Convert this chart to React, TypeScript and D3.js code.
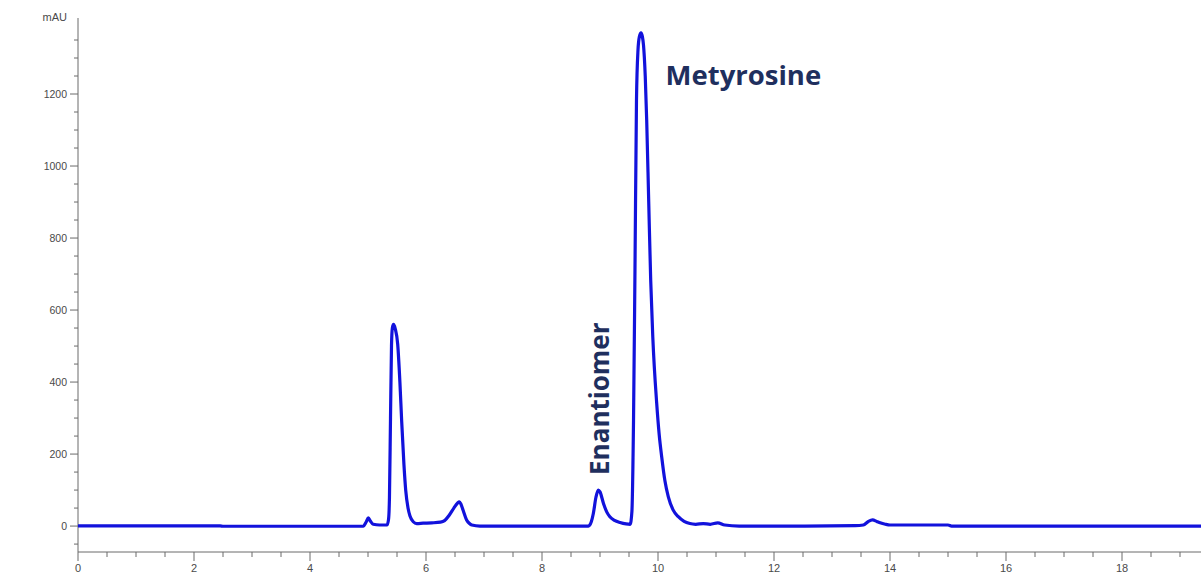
import React from "react";
import * as d3 from "d3";

// Retention time (min) and absorbance (mAU)
const TIME: number[] = [
  0, 2.45, 2.5, 4.5, 4.92, 4.97, 5.006, 5.04, 5.09, 5.2, 5.33,
  5.355, 5.37, 5.388, 5.405, 5.42, 5.44, 5.47, 5.512, 5.55, 5.581, 5.62, 5.65, 5.69, 5.724, 5.78, 5.84,
  5.95, 6.1, 6.25, 6.32, 6.4, 6.48, 6.545, 6.575, 6.6, 6.64, 6.7, 6.75, 6.79, 6.93,
  8.0, 8.8, 8.85, 8.885, 8.93, 8.97, 9.0, 9.06, 9.12, 9.17, 9.25, 9.345, 9.45, 9.52,
  9.55, 9.578, 9.603, 9.629, 9.655, 9.68, 9.707, 9.73, 9.75, 9.78, 9.805, 9.84, 9.874, 9.91, 9.977,
  10.02, 10.064, 10.12, 10.178, 10.26, 10.35, 10.45, 10.55, 10.65, 10.78, 10.9, 11.03, 11.15, 11.4,
  12.5, 13.4, 13.54, 13.62, 13.7, 13.77, 13.83, 13.92, 14.0, 15.0, 15.06, 19.4,
];
const ABSORBANCE: number[] = [
  0.5, 0.5, -0.5, -0.5, 0, 12, 23, 14, 5, 3, 3,
  20, 80, 300, 500, 550, 560, 548, 505, 400, 290, 170, 100, 50, 28, 12, 7,
  8, 9, 11, 15, 30, 50, 64, 67, 62, 44, 17, 7, 3, 0,
  0, 0, 12, 35, 80, 100, 95, 63, 38, 26, 16, 10, 6, 5,
  40, 294, 711, 1183, 1322, 1360, 1370, 1360, 1336, 1250, 1128, 900, 683, 526, 342,
  255, 192, 125, 81, 45, 26, 13, 7, 5, 7, 5, 9, 3, 0,
  0, 1, 3, 12, 17, 13, 9, 5, 3, 3, 0, 0,
];

const X_MAJOR: number[] = [0, 2, 4, 6, 8, 10, 12, 14, 16, 18];
const Y_MAJOR: number[] = [0, 200, 400, 600, 800, 1000, 1200];
const Y_UNIT = "mAU";

const PEAK_LABELS = [
  { name: "Metyrosine", t: 10.13, v: 1225, rotate: false, size: 27.5 },
  { name: "Enantiomer", t: 8.9, v: 142, rotate: true, size: 26 },
];

const W = 1201;
const H = 574;

export default function App() {
  const x = d3.scaleLinear().domain([0, 19.362]).range([78, 1201]);
  const y = d3.scaleLinear().domain([-72, 1400]).range([552, 22]);

  const xMinor = d3.range(0, 19.4, 0.5).filter((t) => Math.abs(t / 2 - Math.round(t / 2)) > 1e-6);
  const yMinor = d3.range(-50, 1401, 50).filter((v) => v % 200 !== 0);

  const pts = TIME.map((t, i) => [t, ABSORBANCE[i]] as [number, number]);
  const line = d3
    .line<[number, number]>()
    .x((d) => x(d[0]))
    .y((d) => y(d[1]))
    .curve(d3.curveMonotoneX);

  const axisColor = "#6a6a6a";
  const labelColor = "#4a4a4a";
  const tickFont = "'Liberation Sans', Arial, sans-serif";

  return (
    <svg
      width={W}
      height={H}
      style={{ position: "absolute", left: 0, top: 0, background: "#fff" }}
    >
      <defs>
        <clipPath id="plot">
          <rect x={78} y={0} width={W - 78} height={552} />
        </clipPath>
      </defs>

      {/* y axis */}
      <line x1={78} x2={78} y1={18} y2={552} stroke={axisColor} strokeWidth={1} />
      {yMinor.map((v) => (
        <line key={"ym" + v} x1={74} x2={78} y1={y(v)} y2={y(v)} stroke={axisColor} />
      ))}
      {Y_MAJOR.map((v) => (
        <g key={"yM" + v}>
          <line x1={70} x2={78} y1={y(v)} y2={y(v)} stroke={axisColor} />
          <text
            x={67}
            y={y(v)}
            dy="0.35em"
            textAnchor="end"
            fontSize={10.5}
            fontFamily={tickFont}
            fill={labelColor}
          >
            {v}
          </text>
        </g>
      ))}
      <text
        x={67}
        y={20.5}
        textAnchor="end"
        fontSize={11}
        fontFamily={tickFont}
        fill={labelColor}
      >
        {Y_UNIT}
      </text>

      {/* x axis */}
      <line x1={78} x2={W} y1={552} y2={552} stroke={axisColor} strokeWidth={1} />
      {xMinor.map((t) => (
        <line key={"xm" + t} x1={x(t)} x2={x(t)} y1={552} y2={557} stroke={axisColor} />
      ))}
      {X_MAJOR.map((t) => (
        <g key={"xM" + t}>
          <line x1={x(t)} x2={x(t)} y1={552} y2={561} stroke={axisColor} />
          <text
            x={x(t)}
            y={571.5}
            textAnchor="middle"
            fontSize={11}
            fontFamily={tickFont}
            fill={labelColor}
          >
            {t}
          </text>
        </g>
      ))}

      {/* trace */}
      <g clipPath="url(#plot)">
        <path
          d={line(pts) || ""}
          fill="none"
          stroke="#1212dc"
          strokeWidth={3.2}
          strokeLinejoin="round"
          strokeLinecap="round"
        />
      </g>

      {/* peak labels */}
      {PEAK_LABELS.map((p) =>
        p.rotate ? (
          <text
            key={p.name}
            transform={`translate(${x(p.t) + 15},${y(p.v)}) rotate(-90)`}
            textAnchor="start"
            fontSize={p.size}
            fontWeight={700}
            fontFamily="'Open Sans', sans-serif"
            fill="#1f2f5e"
          >
            {p.name}
          </text>
        ) : (
          <text
            key={p.name}
            x={x(p.t)}
            y={y(p.v)}
            textAnchor="start"
            fontSize={p.size}
            fontWeight={700}
            fontFamily="'Open Sans', sans-serif"
            fill="#1f2f5e"
          >
            {p.name}
          </text>
        )
      )}
    </svg>
  );
}
